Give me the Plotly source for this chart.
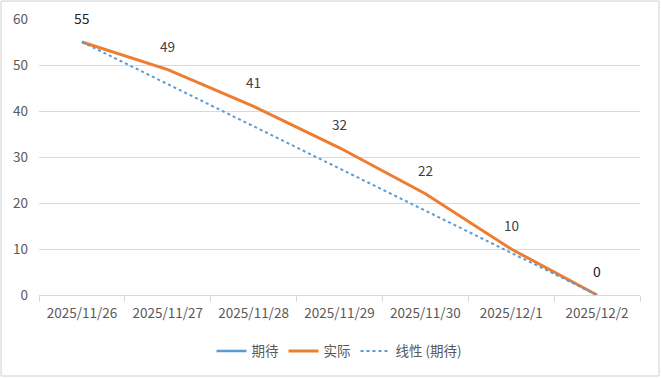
import plotly.graph_objects as go

dates = ["2025/11/26", "2025/11/27", "2025/11/28", "2025/11/29", "2025/11/30", "2025/12/1", "2025/12/2"]
expected = [55, None, None, None, None, None, 0]
actual = [55, 49, 41, 32, 22, 10, 0]
trend = [55, 45.8333, 36.6667, 27.5, 18.3333, 9.1667, 0]  # linear trend of 期待 (55 -> 0)

FONT = "Noto Sans CJK SC, Liberation Sans, sans-serif"
fig = go.Figure()
fig.add_trace(go.Scatter(x=dates, y=expected, name="期待", mode="lines",
                         line=dict(color="#5B9BD5", width=2.5), connectgaps=False))
fig.add_trace(go.Scatter(x=dates, y=actual, name="实际", mode="lines",
                         line=dict(color="#ED7D31", width=3)))
fig.add_trace(go.Scatter(x=dates, y=trend, name="线性 (期待)", mode="lines",
                         line=dict(color="#5B9BD5", width=2, dash="dot")))

# data labels
for i, (d, v) in enumerate(zip(dates, actual)):
    dark = (expected[i] is not None)
    fig.add_annotation(x=d, y=v, text=str(v), showarrow=False, yshift=24,
                       font=dict(size=14 if dark else 13.5, color="#262626" if dark else "#404040", family=FONT))

fig.add_shape(type="rect", xref="paper", yref="paper",
              x0=-0.0632, x1=1.0316, y0=-0.2935, y1=1.065,
              line=dict(color="#D0D0D0", width=1))

fig.update_layout(
    width=661, height=378,
    margin=dict(l=39, r=21, t=19, b=83, autoexpand=False),
    paper_bgcolor="white", plot_bgcolor="white",
    font=dict(family=FONT, size=13.5, color="#595959"),
    showlegend=True,
    legend=dict(orientation="h", x=0.5, xanchor="center", yref="container", y=0.071, yanchor="middle",
                font=dict(size=13.5, color="#595959"), tracegroupgap=0),
)
fig.update_xaxes(type="category", range=[-0.5, 6.5], automargin=False,
                 showgrid=False, showline=True, linecolor="#D9D9D9", linewidth=1,
                 ticks="outside", tickson="boundaries", ticklen=6, tickcolor="#D9D9D9",
                 ticklabelstandoff=6, tickfont=dict(size=13.5, color="#595959"))
fig.update_yaxes(range=[0, 60], dtick=10, automargin=False, showgrid=True, gridcolor="#D9D9D9", gridwidth=1,
                 zeroline=False, showline=False, ticks="", ticklabelstandoff=10,
                 tickfont=dict(size=13.5, color="#595959"))

fig.write_html("out.html", config={"displayModeBar": False},
               post_script="document.body.style.margin='0';")
